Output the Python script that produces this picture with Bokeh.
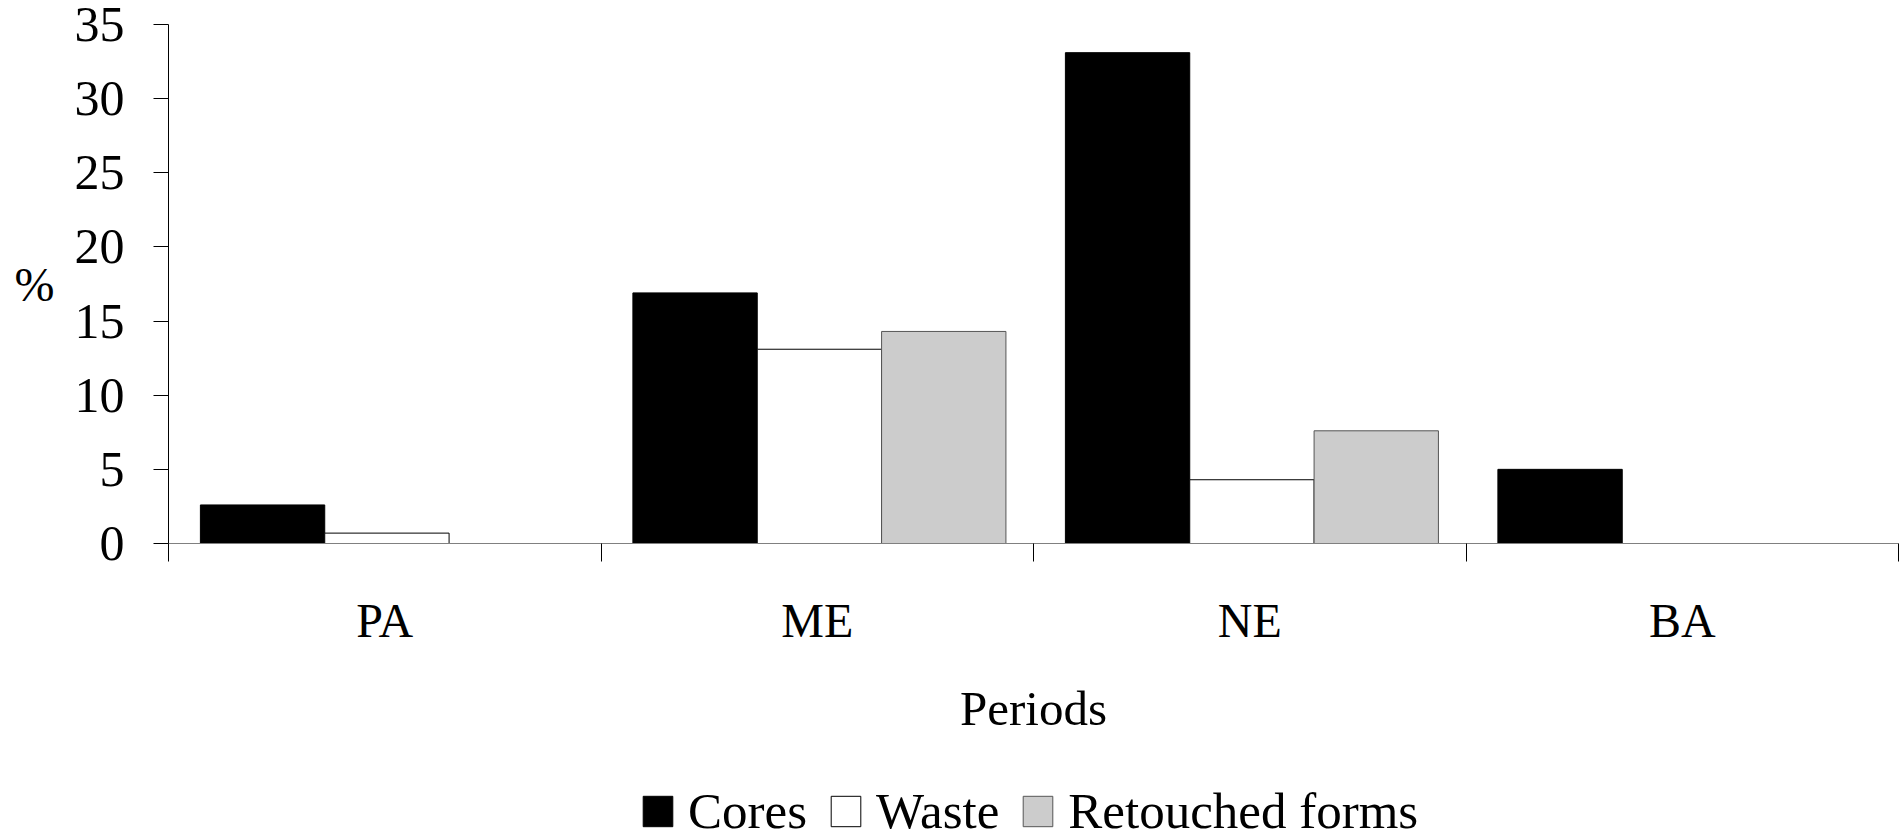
from bokeh.plotting import figure
from bokeh.layouts import column
from bokeh.models import Range1d, FixedTicker, ColumnDataSource, Legend, LegendItem
from bokeh.transform import dodge
from bokeh.embed import file_html
from bokeh.resources import INLINE

# ---- data ----
periods = ["PA", "ME", "NE", "BA"]
cores = [2.6, 16.9, 33.1, 5.0]
waste = [0.7, 13.1, 4.3, 0.0]
retouched = [0.0, 14.3, 7.6, 0.0]
y_ticks = [0, 5, 10, 15, 20, 25, 30, 35]
series_labels = ["Cores", "Waste", "Retouched forms"]

centers = [i + 0.5 for i in range(len(periods))]
edges = list(range(len(periods) + 1))
src = ColumnDataSource(dict(x=centers, period=periods, cores=cores,
                            waste=waste, retouched=retouched))

FONT = "Liberation Serif"
FS = "48px"

STYLES = [
    dict(fill_color="black", line_color="black"),
    dict(fill_color="white", line_color="black"),
    dict(fill_color="#cccccc", line_color="#555555"),
]
cols = ["cores", "waste", "retouched"]

p = figure(width=1899, height=770,
           x_range=Range1d(0, len(periods)), y_range=Range1d(0, 35),
           output_backend="svg", toolbar_location=None,
           min_border_left=168, min_border_right=1,
           min_border_top=24, min_border_bottom=227)
p.outline_line_color = None
p.xgrid.visible = False
p.ygrid.visible = False
p.background_fill_color = "white"
p.border_fill_color = "white"

W = 0.2875
offsets = [-0.2825, 0.005, 0.2925]
for off, col, st in zip(offsets, cols, STYLES):
    p.vbar(x=dodge("x", off), top=col, width=W, source=src, line_width=1, **st)

# y axis
ya = p.yaxis[0]
ya.ticker = FixedTicker(ticks=y_ticks)
ya.major_tick_out = 15
ya.major_tick_in = 0
ya.minor_tick_line_color = None
ya.major_tick_line_color = "black"
ya.axis_line_color = "black"
ya.major_label_standoff = 29
ya.major_label_text_font = FONT
ya.major_label_text_font_size = "50px"
ya.major_label_text_color = "black"
ya.axis_label = "%"
ya.axis_label_orientation = "horizontal"
ya.axis_label_text_font = FONT
ya.axis_label_text_font_size = FS
ya.axis_label_text_font_style = "normal"
ya.axis_label_text_color = "black"
ya.axis_label_standoff = 17

# x axis
xa = p.xaxis[0]
xa.ticker = FixedTicker(ticks=centers, minor_ticks=edges)
xa.major_label_overrides = {c: name for c, name in zip(centers, periods)}
xa.major_tick_line_color = None
xa.major_tick_out = 0
xa.major_tick_in = 0
xa.minor_tick_out = 18
xa.minor_tick_in = 0
xa.minor_tick_line_color = "black"
xa.axis_line_color = "#808080"
xa.major_label_standoff = 32
xa.major_label_text_font = FONT
xa.major_label_text_font_size = FS
xa.major_label_text_color = "black"
xa.axis_label = "Periods"
xa.axis_label_text_font = FONT
xa.axis_label_text_font_size = "49px"
xa.axis_label_text_font_style = "normal"
xa.axis_label_text_color = "black"
xa.axis_label_standoff = 31

# legend strip (separate small figure under the chart; its bars lie out of view)
lg = figure(width=1899, height=64, x_range=Range1d(0, len(periods)),
            y_range=Range1d(100, 101),
            output_backend="svg", toolbar_location=None,
            x_axis_type=None, y_axis_type=None,
            min_border_left=0, min_border_right=0,
            min_border_top=0, min_border_bottom=0)
lg.outline_line_color = None
lg.xgrid.visible = False
lg.ygrid.visible = False
items = []
for off, col, lab, st in zip(offsets, cols, series_labels, STYLES):
    r = lg.vbar(x=dodge("x", off), top=col, width=W, source=src, line_width=1, **st)
    items.append(LegendItem(label=lab, renderers=[r]))

legend = Legend(items=items, orientation="horizontal", location=(471, -6),
                glyph_width=37, glyph_height=38,
                label_text_font=FONT, label_text_font_size="51px",
                label_text_color="black",
                label_standoff=12, spacing=20, padding=0, margin=0,
                border_line_color=None, background_fill_alpha=0)
lg.add_layout(legend)

layout = column(p, lg, spacing=0)
open("out.html", "w").write(file_html(layout, INLINE))
